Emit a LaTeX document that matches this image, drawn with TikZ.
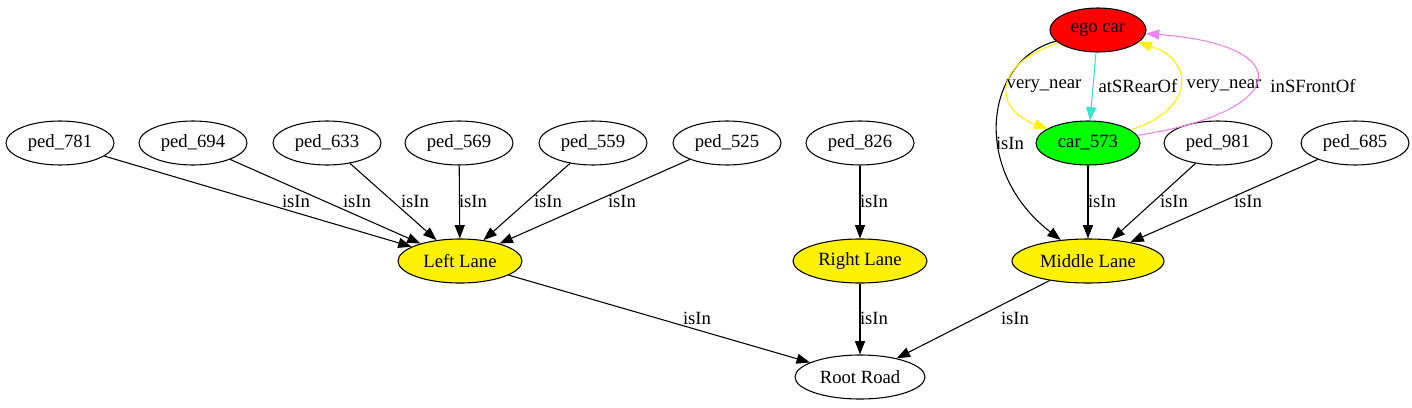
\documentclass[tikz,border=0pt]{standalone}
\usepackage{fontspec}
\setmainfont{Liberation Serif}
\usetikzlibrary{shapes.geometric,arrows.meta}

\begin{document}
\begin{tikzpicture}[x=0.75pt,y=-0.75pt,line width=0.8pt]
\useasboundingbox (0,0) rectangle (1412,407);
\tikzstyle{every node}=[draw,shape=ellipse,inner sep=0pt,minimum height=33pt,minimum width=81pt,font=\fontsize{14}{16}\selectfont];
\node (p781) at (60, 143) {ped\_781};
\node (p694) at (193, 143) {ped\_694};
\node (p633) at (327, 143) {ped\_633};
\node (p569) at (459, 143) {ped\_569};
\node (p559) at (593, 143) {ped\_559};
\node (p525) at (727, 143) {ped\_525};
\node (p826) at (860, 143) {ped\_826};
\node (p981) at (1218, 143) {ped\_981};
\node (p685) at (1355, 143) {ped\_685};
\node[fill=red,minimum width=72pt] (ego) at (1098, 30) {ego car};
\node[fill=green,minimum width=78pt] (car) at (1088, 143) {car\_573};
\node[fill=yellow,minimum width=93pt] (ll) at (460, 261) {Left Lane};
\node[fill=yellow,minimum width=100.5pt] (rl) at (860, 261) {Right Lane};
\node[fill=yellow,minimum width=114pt] (ml) at (1088, 261) {Middle Lane};
\node[minimum width=97.5pt] (rr) at (860, 377) {Root Road};
\tikzstyle{every node}=[font=\fontsize{14}{16}\selectfont,inner sep=0pt];
\tikzstyle{edge}=[-{Triangle[length=10pt,width=7.5pt]}];
\draw [edge] (p781) -- (ll) node at (296, 201) {isIn};
\draw [edge] (p694) -- (ll) node at (357, 201) {isIn};
\draw [edge] (p633) -- (ll) node at (415, 201) {isIn};
\draw [edge] (p569) -- (ll) node at (473, 201) {isIn};
\draw [edge] (p559) -- (ll) node at (548, 201) {isIn};
\draw [edge] (p525) -- (ll) node at (622, 201) {isIn};
\draw [edge] (p826) -- (rl) node at (874, 201) {isIn};
\draw [edge] (car) -- (ml) node at (1102, 201) {isIn};
\draw [edge] (p981) -- (ml) node at (1174, 201) {isIn};
\draw [edge] (p685) -- (ml) node at (1248, 201) {isIn};
\draw [edge] (ll) -- (rr) node at (697, 318) {isIn};
\draw [edge] (rl) -- (rr) node at (874, 318) {isIn};
\draw [edge] (ml) -- (rr) node at (1015, 318) {isIn};
% ego car relations
\draw [edge] (ego) .. controls (985, 60) and (970, 170) .. (ml) node at (1010, 143) {isIn};
\draw [edge,yellow] (ego) .. controls (990, 65) and (995, 110) .. (car) node[black] at (1044, 86) {very\_near};
\draw [edge,color={rgb,255:red,64;green,224;blue,208}] (ego) -- (car) node[black] at (1138, 86) {atSRearOf};
\draw [edge,yellow] (car) .. controls (1195, 110) and (1195, 60) .. (ego) node[black] at (1224, 86) {very\_near};
\draw [edge,color={rgb,255:red,238;green,130;blue,238}] (car) .. controls (1290, 112) and (1300, 45) .. (ego) node[black] at (1313, 86) {inSFrontOf};
\end{tikzpicture}
\end{document}
